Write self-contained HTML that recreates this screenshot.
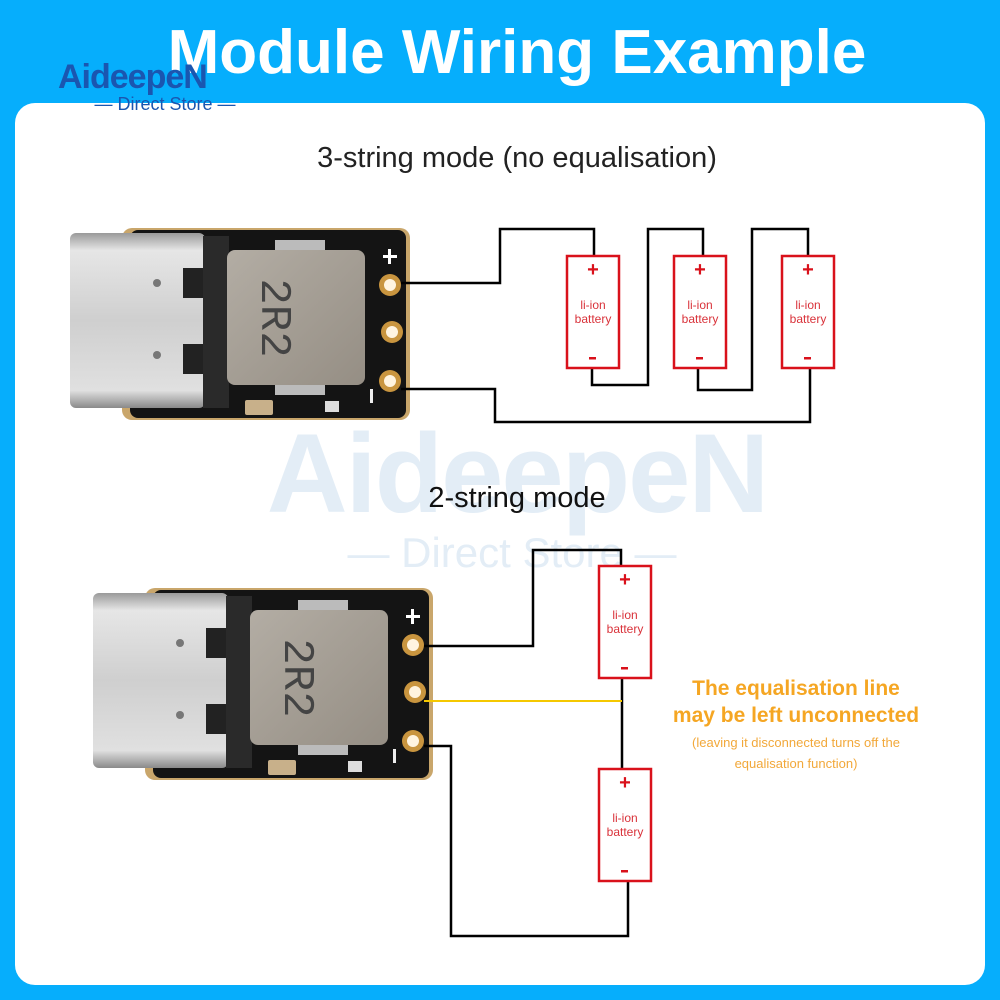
<!DOCTYPE html>
<html><head><meta charset="utf-8"><style>
html,body{margin:0;padding:0;width:1000px;height:1000px;overflow:hidden;background:#06aefc;}
svg{display:block}
</style></head><body>
<svg width="1000" height="1000" viewBox="0 0 1000 1000" xmlns="http://www.w3.org/2000/svg" font-family="Liberation Sans, sans-serif">
<defs>
<linearGradient id="usb" x1="0" y1="0" x2="0" y2="1">
<stop offset="0" stop-color="#9a9a9a"/><stop offset="0.1" stop-color="#e6e6e6"/><stop offset="0.5" stop-color="#cfcfcf"/><stop offset="0.9" stop-color="#e0e0e0"/><stop offset="1" stop-color="#8a8a8a"/>
</linearGradient>
<linearGradient id="ind" x1="0" y1="0" x2="1" y2="1">
<stop offset="0" stop-color="#b3ada4"/><stop offset="1" stop-color="#958e84"/>
</linearGradient>
<g id="board">
  <rect x="122" y="228" width="288" height="192" rx="10" fill="#c9a66b"/>
  <rect x="130" y="230" width="276" height="188" rx="8" fill="#141414"/>
  <rect x="70" y="233" width="135" height="175" rx="6" fill="url(#usb)"/>
  <rect x="183" y="268" width="20" height="30" fill="#222"/>
  <rect x="183" y="344" width="20" height="30" fill="#222"/>
  <circle cx="157" cy="283" r="4" fill="#777"/>
  <circle cx="157" cy="355" r="4" fill="#777"/>
  <rect x="203" y="236" width="26" height="172" fill="#2a2a2a"/>
  <rect x="275" y="240" width="50" height="12" fill="#bbb"/>
  <rect x="275" y="383" width="50" height="12" fill="#bbb"/>
  <rect x="227" y="250" width="138" height="135" rx="8" fill="url(#ind)"/>
  <text x="0" y="0" transform="translate(262,318) rotate(90)" text-anchor="middle" font-size="44" fill="#444" font-family="Liberation Mono, monospace">2R2</text>
  <rect x="245" y="400" width="28" height="15" rx="2" fill="#c8b08a"/>
  <rect x="325" y="401" width="14" height="11" fill="#ddd"/>
  <circle cx="390" cy="285" r="11" fill="#c9953f"/><circle cx="390" cy="285" r="6" fill="#fff4e0"/>
  <circle cx="392" cy="332" r="11" fill="#c9953f"/><circle cx="392" cy="332" r="6" fill="#fff4e0"/>
  <circle cx="390" cy="381" r="11" fill="#c9953f"/><circle cx="390" cy="381" r="6" fill="#fff4e0"/>
  <rect x="383" y="255" width="14" height="3" fill="#fff"/><rect x="388" y="249" width="3" height="15" fill="#fff"/>
  <rect x="370" y="389" width="3" height="14" fill="#eee"/>
</g>
<g id="batt">
  <rect x="0" y="0" width="52" height="112" fill="#fff" stroke="#d9111b" stroke-width="2.5"/>
  <text x="26" y="20" text-anchor="middle" font-size="20" font-weight="bold" fill="#d9111b">+</text>
  <text x="26" y="53" text-anchor="middle" font-size="12" fill="#d9323a">li-ion</text>
  <text x="26" y="67" text-anchor="middle" font-size="12" fill="#d9323a">battery</text>
  <rect x="22" y="101" width="7" height="2.5" fill="#d9111b"/>
</g>
</defs>
<rect x="15" y="103" width="970" height="882" rx="20" fill="#fff"/>
<text x="517" y="73" text-anchor="middle" font-size="62" font-weight="bold" fill="#fff">Module Wiring Example</text>
<!-- logo -->
<text x="58" y="88" font-size="34" font-weight="bold" fill="#1a56b0" letter-spacing="-1">AideepeN</text>
<text x="165" y="110" text-anchor="middle" font-size="18" fill="#1a56b0">— Direct Store —</text>
<!-- watermark -->
<text x="517" y="512" text-anchor="middle" font-size="112" font-weight="bold" fill="#e3edf6" letter-spacing="-2">AideepeN</text>
<text x="512" y="567" text-anchor="middle" font-size="42" fill="#e3edf6">— Direct Store —</text>
<!-- headings -->
<text x="517" y="167" text-anchor="middle" font-size="29" fill="#222">3-string mode (no equalisation)</text>
<text x="517" y="507" text-anchor="middle" font-size="29" fill="#111">2-string mode</text>
<use href="#board"/>
<use href="#board" transform="translate(23,360)"/>
<g fill="none" stroke="#000" stroke-width="2.5">
<polyline points="401,283 500,283 500,229 594,229 594,256"/>
<polyline points="592,368 592,385 648,385 648,229 703,229 703,256"/>
<polyline points="698,368 698,390 752,390 752,229 808,229 808,256"/>
<polyline points="810,368 810,422 495,422 495,389 401,389"/>
<polyline points="424,646 533,646 533,550 621,550 621,566"/>
<polyline points="622,678 622,769"/>
<polyline points="628,881 628,936 451,936 451,746 424,746"/>
</g>
<line x1="424" y1="701" x2="622" y2="701" stroke="#f5c800" stroke-width="2"/>
<use href="#batt" x="567" y="256"/>
<use href="#batt" x="674" y="256"/>
<use href="#batt" x="782" y="256"/>
<use href="#batt" x="599" y="566"/>
<use href="#batt" x="599" y="769"/>
<text x="796" y="695" text-anchor="middle" font-size="21" font-weight="bold" fill="#f5a623">The equalisation line</text>
<text x="796" y="722" text-anchor="middle" font-size="21" font-weight="bold" fill="#f5a623">may be left unconnected</text>
<text x="796" y="747" text-anchor="middle" font-size="13" fill="#f2a83a">(leaving it disconnected turns off the</text>
<text x="796" y="768" text-anchor="middle" font-size="13" fill="#f2a83a">equalisation function)</text>
</svg>
</body></html>
